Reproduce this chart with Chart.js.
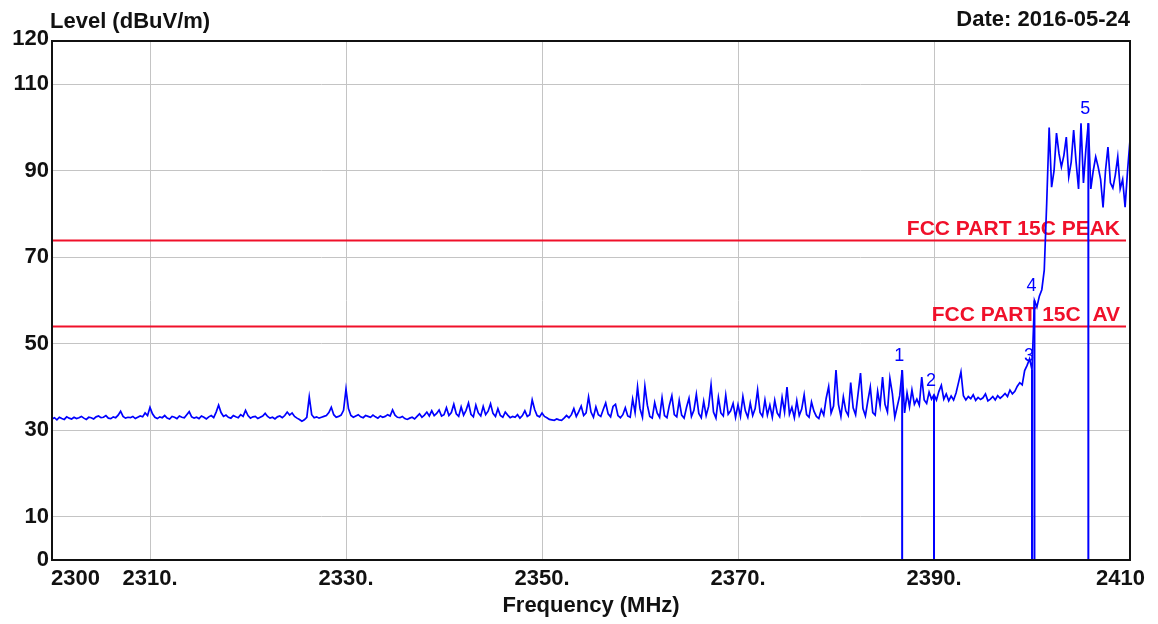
<!DOCTYPE html>
<html>
<head>
<meta charset="utf-8">
<script src="https://cdn.jsdelivr.net/npm/chart.js@4/dist/chart.umd.min.js"></script>
<style>
html,body{margin:0;padding:0;background:#fff;overflow:hidden}
#wrap{width:1158px;height:624px;position:relative;background:#fff}
</style>
</head>
<body>
<div id="wrap"><canvas id="c" width="1158" height="624"></canvas></div>
<script>
// ---- Sweep (spectrum analyser) settings ----
const sweepStartMHz = 2300;
const sweepStepMHz = 0.25;

// ---- Measured level (dBuV/m), one array per 10 MHz, 0.25 MHz steps ----
const levels2300 = [32.6,32.9,32.4,33.0, 32.7,32.5,33.1,32.8, 32.6,33.0,32.7,32.9, 33.2,32.8,32.5,33.0, 32.9,32.6,33.1,33.3, 32.9,33.0,33.4,32.8, 32.7,33.1,32.9,33.5, 34.4,33.2,32.8,33.0, 32.9,33.2,32.7,33.0, 33.3,33.1,34.0,33.4];
const levels2310 = [35.3,33.8,33.0,32.7, 33.1,32.9,33.4,32.8, 32.6,33.2,33.0,32.7, 33.3,33.0,32.9,33.6, 34.3,33.1,32.8,33.0, 32.7,33.3,33.0,32.6, 33.1,33.4,32.9,34.2, 35.8,34.1,33.2,33.5, 33.0,32.8,33.4,33.1, 32.9,33.6,33.2,34.6];
const levels2320 = [33.4,32.8,33.1,33.2, 32.7,33.0,33.3,33.9, 33.2,32.8,33.0,32.6, 33.1,33.3,32.9,33.4, 34.2,33.5,34.0,33.2, 32.8,32.5,32.1,32.4, 33.0,37.7,33.6,32.9, 33.1,32.8,33.0,33.2, 33.4,34.1,35.3,33.6, 33.0,33.2,33.5,34.6];
const levels2330 = [39.5,35.0,33.4,33.0, 33.3,33.6,33.1,32.9, 33.4,33.2,33.0,33.5, 33.1,32.8,33.3,33.0, 33.2,33.6,33.3,34.7, 33.5,33.0,32.9,33.2, 32.7,32.5,32.8,33.0, 32.6,33.2,33.8,33.0, 33.5,34.2,33.3,34.5, 33.4,33.9,34.7,33.3];
const levels2340 = [33.6,35.2,33.4,34.1, 36.0,33.8,33.2,35.4, 33.5,34.6,36.3,33.7, 33.1,35.8,34.0,33.3, 35.5,33.6,34.4,36.1, 33.9,33.2,35.0,33.4, 33.0,34.2,33.5,32.9, 33.2,33.0,33.6,32.8, 33.4,34.5,33.2,33.6, 37.0,34.8,33.4,33.1];
const levels2350 = [34.0,33.2,32.9,32.5, 32.4,32.3,32.6,32.4, 32.3,32.8,33.4,32.9, 33.6,35.0,33.2,34.3, 35.6,33.4,34.0,37.7, 34.2,33.0,35.4,33.6, 33.2,34.8,36.3,33.8, 33.1,35.5,36.0,33.4, 32.9,33.6,35.2,33.3, 33.0,37.2,34.1,40.0];
const levels2360 = [35.0,33.0,40.2,35.8, 33.2,32.8,36.4,34.0, 33.0,37.5,33.4,32.9, 35.8,38.0,33.6,33.1, 36.9,33.5,32.8,35.3, 37.4,33.2,34.6,38.3, 33.9,32.9,36.7,33.4, 35.5,40.5,34.2,32.8, 37.6,34.0,33.3,38.1, 33.7,34.5,36.2,33.0];
const levels2370 = [35.9,33.2,37.8,34.5, 33.0,36.3,33.4,35.0, 39.3,34.1,33.2,37.0, 33.5,35.8,33.0,36.9, 34.0,33.1,37.6,34.2, 40.0,33.7,35.3,32.9, 36.8,33.4,34.9,38.2, 33.6,33.0,36.5,34.4, 33.2,32.7,34.8,33.5, 37.4,40.1,34.0,35.6];
const levels2380 = [43.9,36.0,33.2,37.7, 34.5,33.4,41.0,35.2, 33.6,38.4,43.2,35.0, 33.3,36.8,40.0,34.1, 33.5,39.0,35.6,42.3, 36.0,34.2,42.0,38.5, 33.0,35.5,38.0,43.9, 34.0,38.6,35.4,39.3, 36.0,37.2,35.8,42.3, 37.0,36.2,38.8,37.2];
const levels2390 = [38.2,37.0,39.0,40.4, 37.2,38.4,36.8,37.9, 37.0,38.6,41.0,43.5, 38.0,37.0,37.8,37.3, 38.2,36.9,37.6,37.1, 37.5,38.4,36.8,37.2, 37.8,37.0,38.0,37.4, 37.9,38.5,37.8,39.3, 38.4,39.0,40.2,41.0, 40.5,43.8,45.0,46.5];
const levels2400 = [44.0,60.0,58.5,61.0, 62.5,67.0,82.5,100.0, 86.2,90.0,98.7,94.0, 90.9,93.5,97.8,88.6, 92.0,99.4,92.0,85.8, 101.0,87.2,95.0,101.0, 85.8,90.0,93.2,90.9, 88.0,81.5,90.0,95.5, 87.2,86.0,89.0,93.2, 85.8,88.0,81.6,90.0, 97.1];

// ---- Limits ----
const limitValues = [74, 54];
const limitNames = ['FCC PART 15C PEAK', 'FCC PART 15C  AV'];

// ---- Markers ----
const markerNames = ['1', '2', '3', '4', '5'];
const markerFreqs = [2386.75, 2390.0, 2400.0, 2400.25, 2405.75];
const markerLevels = [43.9, 38.2, 44.0, 60.0, 101.0];

// ---- Axes ----
const xTickValues = [2300, 2310, 2330, 2350, 2370, 2390, 2410];
const xTickLabels = ['2300', '2310.', '2330.', '2350.', '2370.', '2390.', '2410'];
const yTickValues = [0, 10, 30, 50, 70, 90, 110, 120];
const yTickLabels = ['0', '10', '30', '50', '70', '90', '110', '120'];
const yTitle = 'Level (dBuV/m)';
const xTitle = 'Frequency (MHz)';
const dateText = 'Date: 2016-05-24';

// ---- Build data table ----
const allLevels = [].concat(levels2300, levels2310, levels2320, levels2330, levels2340,
  levels2350, levels2360, levels2370, levels2380, levels2390, levels2400);
const tracePoints = allLevels.map((v, i) => ({ x: sweepStartMHz + i * sweepStepMHz, y: v }));

const BLUE = '#0000ff';
const RED = '#f0102a';
const FONT = '"Liberation Sans", Arial, Helvetica, sans-serif';

const markerDatasets = markerFreqs.map((f, i) => ({
  label: 'M' + markerNames[i],
  data: [{ x: f, y: 0 }, { x: f, y: markerLevels[i] }],
  borderColor: BLUE,
  borderWidth: 2,
  pointRadius: 0,
  fill: false
}));

const decor = {
  id: 'decor',
  beforeDatasetsDraw(chart) {
    const { ctx, chartArea: a, scales: { y } } = chart;
    ctx.save();
    limitValues.forEach((v, i) => {
      const py = Math.round(y.getPixelForValue(v)) + 0.5;
      ctx.strokeStyle = RED;
      ctx.lineWidth = 2;
      ctx.beginPath();
      ctx.moveTo(a.left, py);
      ctx.lineTo(a.right - 4, py);
      ctx.stroke();
      ctx.fillStyle = RED;
      ctx.font = 'bold 21px ' + FONT;
      ctx.textAlign = 'right';
      ctx.textBaseline = 'alphabetic';
      ctx.fillText(limitNames[i], a.right - 10, py - 6);
    });
    ctx.restore();
  },
  afterDatasetsDraw(chart) {
    const { ctx, scales: { x, y } } = chart;
    ctx.save();
    ctx.fillStyle = BLUE;
    ctx.font = '18px ' + FONT;
    ctx.textAlign = 'center';
    ctx.textBaseline = 'middle';
    markerFreqs.forEach((f, i) => {
      ctx.fillText(markerNames[i], x.getPixelForValue(f) - 3, y.getPixelForValue(markerLevels[i]) - 14);
    });
    ctx.restore();
  },
  afterDraw(chart) {
    const { ctx, chartArea: a, scales: { x, y } } = chart;
    ctx.save();
    // frame
    ctx.strokeStyle = '#111';
    ctx.lineWidth = 2;
    ctx.strokeRect(a.left, a.top, a.right - a.left, a.bottom - a.top);
    ctx.fillStyle = '#111';
    ctx.font = 'bold 22px ' + FONT;
    // y tick labels
    ctx.textAlign = 'right';
    ctx.textBaseline = 'middle';
    yTickValues.forEach((v, i) => {
      ctx.fillText(yTickLabels[i], a.left - 3, y.getPixelForValue(v) - (v === 120 ? 2 : 0));
    });
    // x tick labels
    xTickValues.forEach((v, i) => {
      const px = x.getPixelForValue(v);
      if (i === 0) { ctx.textAlign = 'left'; ctx.fillText(xTickLabels[i], px - 1, a.bottom + 19); }
      else if (i === xTickValues.length - 1) { ctx.textAlign = 'right'; ctx.fillText(xTickLabels[i], px + 15, a.bottom + 19); }
      else { ctx.textAlign = 'center'; ctx.fillText(xTickLabels[i], px, a.bottom + 19); }
    });
    // titles
    ctx.textAlign = 'left';
    ctx.fillText(yTitle, a.left - 2, 22);
    ctx.textAlign = 'right';
    ctx.fillText(dateText, a.right, 20);
    ctx.textAlign = 'center';
    ctx.fillText(xTitle, (a.left + a.right) / 2, 606);
    ctx.restore();
  }
};

new Chart(document.getElementById('c'), {
  type: 'line',
  data: {
    datasets: [{
      label: 'Level',
      data: tracePoints,
      borderColor: BLUE,
      borderWidth: 1.7,
      pointRadius: 0,
      tension: 0,
      fill: false
    }].concat(markerDatasets)
  },
  options: {
    responsive: false,
    animation: false,
    events: [],
    layout: { padding: { left: 52, right: 28, top: 41, bottom: 64 } },
    plugins: { legend: { display: false }, tooltip: { enabled: false } },
    scales: {
      x: {
        type: 'linear', min: 2300, max: 2410,
        afterBuildTicks: s => { s.ticks = xTickValues.map(v => ({ value: v })); },
        afterFit: s => { s.height = 0; },
        ticks: { display: false },
        grid: { color: '#c4c4c4', lineWidth: 1, drawTicks: false },
        border: { display: false }
      },
      y: {
        type: 'linear', min: 0, max: 120,
        afterBuildTicks: s => { s.ticks = yTickValues.map(v => ({ value: v })); },
        afterFit: s => { s.width = 0; },
        ticks: { display: false },
        grid: { color: '#c4c4c4', lineWidth: 1, drawTicks: false },
        border: { display: false }
      }
    }
  },
  plugins: [decor]
});
</script>
</body>
</html>
